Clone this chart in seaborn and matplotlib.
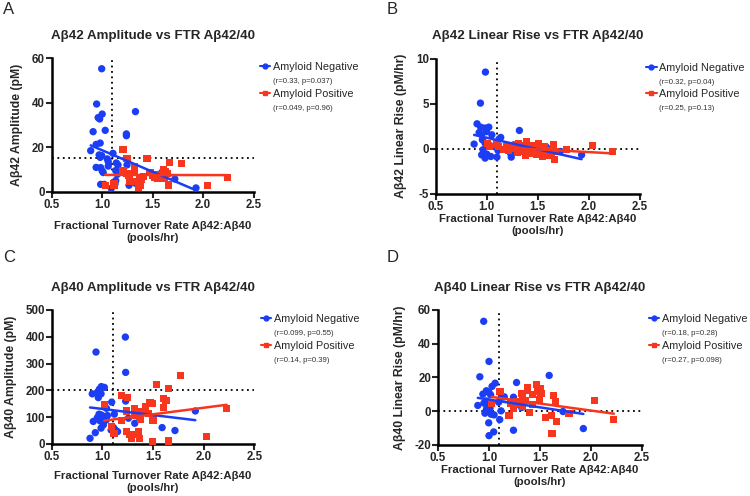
import matplotlib
matplotlib.use("Agg")
import matplotlib.pyplot as plt
from matplotlib.lines import Line2D
import pandas as pd
import seaborn as sns

# colours used by the original figure
BLUE = "#1B3EF5"
RED = "#F8361E"

# --- panel A: Abeta42 amplitude ---
ftr_neg_a = [0.995, 0.945, 1.0, 0.96, 0.975, 0.91, 1.03, 1.33, 1.24, 1.24, 0.886, 0.94, 0.98, 0.97, 0.995,
             0.98, 1.05, 1.06, 1.107, 1.14, 1.157, 1.246, 0.94, 0.985, 1.0, 1.01, 1.06, 1.15, 0.985, 1.02,
             1.127, 1.134, 1.09, 1.266, 1.33, 1.59, 1.72, 1.93, 1.134]
amp42_neg = [55.2, 39.4, 34.9, 33.3, 32.7, 27.0, 27.6, 36.0, 26.0, 25.2, 18.5, 21.3, 21.9, 16.6, 16.3,
             15.5, 14.8, 13.6, 17.3, 13.0, 12.1, 12.1, 11.0, 10.9, 9.4, 8.7, 11.6, 7.9, 3.4, 3.4,
             3.6, 5.1, 1.6, 3.0, 3.9, 8.7, 5.8, 1.8, 9.6]
ftr_pos_a = [1.206, 1.246, 1.444, 1.665, 1.784, 1.32, 1.32, 1.206, 1.246, 1.266, 1.32, 1.37, 1.39, 1.27, 1.30,
             1.36, 1.38, 1.358, 1.474, 1.497, 1.52, 1.54, 1.55, 1.61, 1.645, 1.62, 1.63, 1.66, 2.04, 1.03,
             1.117, 1.117, 1.57, 2.24, 1.41, 1.513]
amp42_pos = [19.1, 14.8, 14.8, 13.3, 12.8, 11.6, 10.6, 9.4, 8.4, 7.6, 8.7, 6.1, 5.4, 4.9, 4.6,
             3.6, 2.7, 2.2, 8.7, 7.2, 6.4, 7.6, 6.1, 10.1, 8.1, 6.1, 9.1, 3.1, 2.8, 3.0,
             3.9, 2.7, 6.9, 6.6, 6.9, 7.9]

# --- panel B: Abeta42 linear rise ---
ftr_neg_b = [0.987, 0.938, 0.905, 0.876, 0.94, 0.98, 1.02, 0.925, 0.95, 0.997, 1.05, 1.137, 1.12, 0.957, 0.984,
             1.01, 1.036, 1.088, 1.1, 1.32, 1.265, 1.11, 1.232, 1.24, 0.95, 0.984, 1.04, 1.1, 1.0, 1.32,
             1.585, 1.72, 1.93, 0.964]
rise42_neg = [8.5, 5.06, 2.77, 0.52, 2.4, 2.3, 2.4, 1.8, 1.55, 1.9, 1.55, 1.26, 1.07, 1.0, 0.63,
              0.37, 0.33, 0.18, 0.55, 2.03, 0.44, -0.18, -0.48, -0.92, -0.67, -1.03, -0.85, -0.92, -0.59, -0.04,
              0.18, -0.3, -0.67, -0.1]
ftr_pos_b = [1.007, 1.03, 1.095, 1.117, 1.16, 1.193, 1.216, 1.25, 1.28, 1.30, 1.327, 1.346, 1.366, 1.38, 1.39,
             1.42, 1.438, 1.457, 1.484, 1.503, 1.516, 1.49, 1.536, 1.57, 1.6, 1.614, 1.634, 1.653, 1.66, 1.676,
             1.784, 2.04, 2.23, 1.39, 1.31, 1.415, 1.55]
rise42_pos = [0.63, 0.26, 0.55, 0.26, -0.04, 0.26, -0.18, 0.41, 0.07, -0.41, 0.33, 0.07, -0.3, -0.78, 0.26,
              0.41, -0.04, -0.41, 0.33, 0.55, -0.04, -0.67, -0.3, 0.26, -0.18, -0.78, -0.48, 0.48, -1.15, -0.3,
              -0.04, 0.33, -0.3, 0.81, 0.55, -0.48, -0.85]

# --- panel C: Abeta40 amplitude ---
ftr_neg_c = [0.937, 1.227, 1.23, 0.90, 0.95, 0.97, 0.99, 1.02, 0.987, 0.96, 1.092, 1.23, 1.04, 0.967, 0.91,
             0.878, 0.93, 0.99, 1.02, 1.05, 0.977, 1.01, 1.04, 0.987, 1.01, 1.118, 1.086, 1.11, 1.128, 1.15,
             1.257, 1.32, 1.34, 1.59, 1.717, 1.918, 0.95]
amp40_neg = [343, 399, 267, 187, 192, 204, 214, 211, 187, 173, 156, 160, 133, 111, 84,
             21, 42, 108, 102, 106, 86, 80, 90, 59, 71, 111, 52, 61, 52, 46,
             96, 77, 36, 61, 50, 123, 98]
ftr_pos_c = [1.02, 1.092, 1.115, 1.19, 1.247, 1.19, 1.234, 1.24, 1.266, 1.29, 1.316, 1.32, 1.355, 1.365, 1.378,
             1.388, 1.424, 1.454, 1.47, 1.497, 1.5, 1.5, 1.536, 1.602, 1.628, 1.602, 1.651, 1.773, 1.493, 1.651,
             2.03, 2.227, 1.32, 1.37]
amp40_pos = [146, 65, 40, 181, 174, 87, 123, 46, 36, 19, 133, 108, 46, 21, 90,
             121, 140, 115, 156, 150, 96, 86, 221, 171, 161, 136, 207, 254, 9, 11,
             27, 132, 36, 103]

# --- panel D: Abeta40 linear rise ---
ftr_neg_d = [0.948, 1.0, 0.91, 1.59, 1.06, 1.03, 1.27, 0.974, 1.0, 0.94, 1.016, 1.12, 1.15, 1.24, 0.89,
             0.95, 0.974, 0.99, 1.01, 0.974, 1.0, 0.96, 1.02, 1.095, 1.245, 1.33, 1.32, 1.118, 1.05, 0.997,
             1.105, 1.24, 1.046, 1.0, 1.725, 1.925, 0.98]
rise40_neg = [53.3, 29.5, 20.4, 21.2, 16.6, 14.7, 17.0, 12.1, 11.1, 10.1, 9.7, 8.1, 8.5, 8.3, 3.4,
              4.8, 6.1, 3.4, 1.8, 0.8, -0.2, -1.2, -1.8, 5.3, 4.8, 6.7, 2.2, 0.2, -2.2, -6.9,
              -5.0, -11.3, -12.3, -14.5, -0.2, -10.3, 1.8]
ftr_pos_d = [1.108, 1.026, 1.196, 1.21, 1.237, 1.25, 1.294, 1.317, 1.327, 1.36, 1.373, 1.379, 1.40, 1.43, 1.467,
             1.48, 1.5, 1.51, 1.497, 1.555, 1.61, 1.618, 1.63, 1.65, 1.66, 1.784, 2.03, 2.225, 1.43, 1.27,
             1.33]
rise40_pos = [11.7, 4.8, -2.8, 4.8, 1.8, 3.8, 4.8, 10.7, 8.7, 6.1, 12.1, 14.1, -0.8, 3.8, 16.0,
              11.7, 13.7, 10.7, 7.1, -3.6, -2.6, -13.3, 9.3, 5.7, -6.1, -1.2, 6.5, -4.8, 9.7, 5.5,
              3.0]

panel_letters = ["A", "B", "C", "D"]
titles = ["A\u03b242 Amplitude vs FTR A\u03b242/40", "A\u03b242 Linear Rise vs FTR A\u03b242/40",
          "A\u03b240 Amplitude vs FTR A\u03b242/40", "A\u03b240 Linear Rise vs FTR A\u03b242/40"]
ylabels = ["A\u03b242 Amplitude (pM)", "A\u03b242 Linear Rise (pM/hr)",
           "A\u03b240 Amplitude (pM)", "A\u03b240 Linear Rise (pM/hr)"]
stats_neg = ["(r=0.33, p=0.037)", "(r=0.32, p=0.04)", "(r=0.099, p=0.55)", "(r=0.18, p=0.28)"]
stats_pos = ["(r=0.049, p=0.96)", "(r=0.25, p=0.13)", "(r=0.14, p=0.39)", "(r=0.27, p=0.098)"]
ylims = [(0, 60), (-5, 10), (0, 500), (-20, 60)]
yticks = [[0, 20, 40, 60], [-5, 0, 5, 10], [0, 100, 200, 300, 400, 500], [-20, 0, 20, 40, 60]]
ftr_cutoff = 1.1
y_cutoffs = [15, 0, 200, 0]
xticks = [0.5, 1.0, 1.5, 2.0, 2.5]
xlabel = "Fractional Turnover Rate A\u03b242:A\u03b240\n(pools/hr)"

sns.set_theme(style="ticks")
plt.rcParams["font.family"] = ["Liberation Sans", "DejaVu Sans"]
plt.rcParams["axes.unicode_minus"] = False

fig = plt.figure(figsize=(7.5, 4.96), dpi=100)
positions = [(0.069, 0.613, 0.269, 0.270), (0.581, 0.609, 0.272, 0.273),
             (0.069, 0.105, 0.270, 0.270), (0.584, 0.103, 0.272, 0.272)]
letter_pos = [(0.004, 0.995), (0.515, 0.995), (0.004, 0.495), (0.515, 0.495)]
xlabel_pad = [7, 1, 6, 1]

panels = [
    (ftr_neg_a, amp42_neg, ftr_pos_a, amp42_pos),
    (ftr_neg_b, rise42_neg, ftr_pos_b, rise42_pos),
    (ftr_neg_c, amp40_neg, ftr_pos_c, amp40_pos),
    (ftr_neg_d, rise40_neg, ftr_pos_d, rise40_pos),
]

for i, (xn, yn, xp, yp) in enumerate(panels):
    ax = fig.add_axes(positions[i])
    neg = pd.DataFrame({"ftr": xn, "val": yn})
    pos = pd.DataFrame({"ftr": xp, "val": yp})

    # dotted cut-off lines
    ax.axvline(ftr_cutoff, color="black", ls=(0, (1, 2)), lw=1.3, zorder=1)
    ax.axhline(y_cutoffs[i], color="black", ls=(0, (1, 2)), lw=1.3, zorder=1)

    sns.scatterplot(data=neg, x="ftr", y="val", ax=ax, color=BLUE, marker="o", s=28,
                    edgecolor="none", clip_on=False, zorder=3)
    sns.scatterplot(data=pos, x="ftr", y="val", ax=ax, color=RED, marker="s", s=26,
                    edgecolor="none", clip_on=False, zorder=3)
    sns.regplot(data=neg, x="ftr", y="val", ax=ax, scatter=False, ci=None, color=BLUE,
                line_kws={"lw": 1.8, "zorder": 4})
    sns.regplot(data=pos, x="ftr", y="val", ax=ax, scatter=False, ci=None, color=RED,
                line_kws={"lw": 1.8, "zorder": 4})

    ax.set_xlim(0.5, 2.5)
    ax.set_ylim(*ylims[i])
    ax.set_xticks(xticks)
    ax.set_xticklabels([f"{t:.1f}" for t in xticks])
    ax.set_yticks(yticks[i])
    ax.tick_params(width=1.5, length=4, labelsize=8.3, pad=1)
    for lab in ax.get_xticklabels() + ax.get_yticklabels():
        lab.set_fontweight("bold")
    sns.despine(ax=ax)
    for side in ["left", "bottom"]:
        ax.spines[side].set_linewidth(1.8)
        ax.spines[side].set_color("black")

    ax.set_title(titles[i], fontsize=9.6, fontweight="bold", pad=14)
    ax.set_xlabel(xlabel, fontsize=8.2, fontweight="bold", labelpad=xlabel_pad[i], linespacing=1.25)
    ax.set_ylabel(ylabels[i], fontsize=8.8, fontweight="bold", labelpad=6)

    handles = [Line2D([0], [0], color=BLUE, marker="o", markersize=3.5, lw=1.5),
               Line2D([0], [0], ls="none"),
               Line2D([0], [0], color=RED, marker="s", markersize=3.5, lw=1.5),
               Line2D([0], [0], ls="none")]
    labels = ["Amyloid Negative", stats_neg[i], "Amyloid Positive", stats_pos[i]]
    leg = ax.legend(handles, labels, loc="upper left", bbox_to_anchor=(1.032, 0.97),
                    frameon=False, handlelength=0.95, handletextpad=0.25, borderpad=0,
                    labelspacing=0.32, borderaxespad=0, fontsize=7.8)
    for j, txt in enumerate(leg.get_texts()):
        if j % 2 == 1:
            txt.set_fontsize(5.6)
            txt.set_color("#333333")

    fig.text(letter_pos[i][0], letter_pos[i][1], panel_letters[i], fontsize=12, va="top", ha="left")

fig.savefig("out.png", dpi=100)
